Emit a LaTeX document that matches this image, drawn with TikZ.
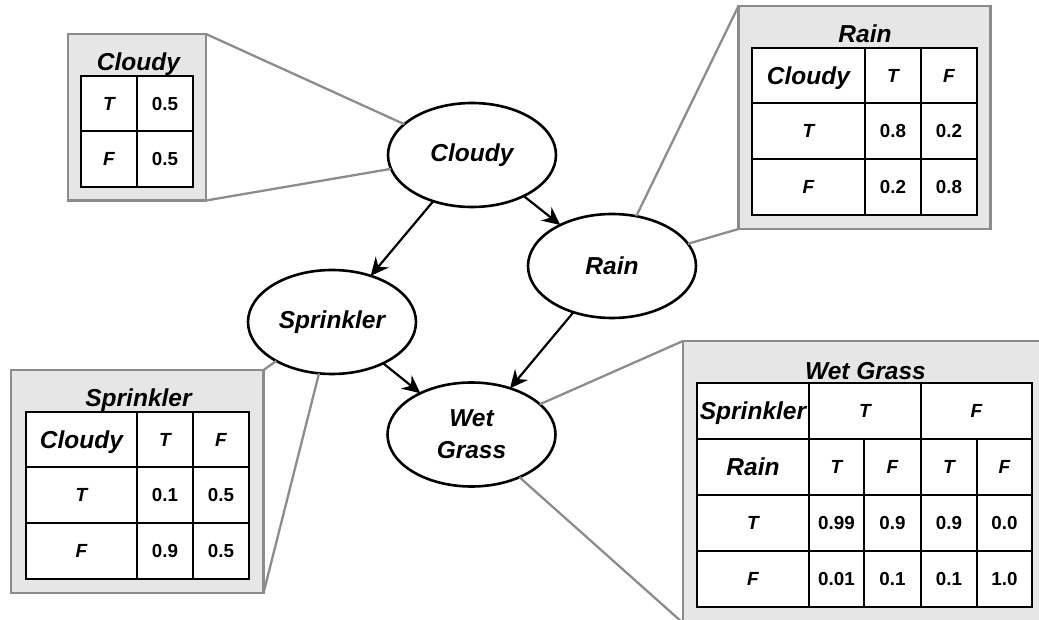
\documentclass[tikz,border=0pt]{standalone}
\usepackage{fontspec}
\setmainfont{Liberation Sans}
\usetikzlibrary{arrows.meta,shapes.geometric}
\definecolor{boxfill}{HTML}{E6E6E6}
\definecolor{boxline}{HTML}{8C8C8C}
\tikzset{
  varnode/.style={ellipse, draw, line width=2.6pt, fill=white, minimum width=168pt,
    minimum height=104pt, inner sep=0pt, outer sep=0pt,
    font=\fontsize{24.5}{32}\selectfont\bfseries\itshape, align=center},
  dep/.style={line width=2.2pt, -{Stealth[length=18pt,width=17pt,inset=6pt]}},
  cpt/.style={rectangle, draw=boxline, fill=boxfill, line width=2.6pt, inner sep=0pt, outer sep=0pt},
  callout/.style={draw=boxline, line width=2.3pt},
  tabline/.style={draw=black, line width=1.4pt},
  hdr/.style={font=\fontsize{24.5}{28}\selectfont\bfseries\itshape, text height=17.5pt, text depth=0pt, inner sep=0pt},
  tf/.style={font=\fontsize{19}{22}\selectfont\bfseries\itshape, text height=13.6pt, text depth=0pt, inner sep=0pt},
  num/.style={font=\fontsize{18.8}{22}\selectfont\bfseries, text height=13.5pt, text depth=0pt, inner sep=0pt},
  ttl/.style={font=\fontsize{24.5}{28}\selectfont\bfseries\itshape, anchor=base, inner sep=0pt},
}
\begin{document}
\begin{tikzpicture}[x=1pt,y=-1pt]
\useasboundingbox (0,0) rectangle (1039,620);

% ---------- conditional probability tables (grey panels) ----------
\node[cpt, minimum width=138pt, minimum height=166.5pt] (cloudyCPT) at (137,117.25) {};
\node[cpt, minimum width=252pt, minimum height=223pt] (rainCPT) at (864.5,117.5) {};
\node[cpt, minimum width=252.5pt, minimum height=223pt] (sprinklerCPT) at (137.25,481.5) {};
\node[cpt, minimum width=367pt, minimum height=282pt] (wetCPT) at (866.5,482) {};

% ---------- network variables ----------
\node[varnode] (cloudy) at (472,155) {Cloudy};
\node[varnode] (rain) at (612,266) {Rain};
\node[varnode] (sprinkler) at (332,322) {Sprinkler};
\node[varnode] (wet) at (471.5,434.5) {Wet\\Grass};

% ---------- dependencies ----------
\draw[dep] (cloudy) -- (sprinkler);
\draw[dep] (cloudy) -- (rain);
\draw[dep] (sprinkler) -- (wet);
\draw[dep] (rain) -- (wet);

% ---------- callout lines from panels to variables ----------
\draw[callout] (cloudyCPT.north east) -- (cloudy);
\draw[callout] (cloudyCPT.south east) -- (cloudy);
\draw[callout] (rainCPT.north west) -- (rain);
\draw[callout] (rainCPT.south west) -- (rain);
\draw[callout] (sprinklerCPT.north east) -- (sprinkler);
\draw[callout] (sprinklerCPT.south east) -- (sprinkler);
\draw[callout] (wetCPT.north west) -- (wet);
\draw[callout] (wetCPT.south west) -- (wet);

% ---------- Cloudy table ----------
\node[ttl] (cloudyTitle) at (138.5,71) {Cloudy};
\draw[tabline, fill=white] (81,76) rectangle (193,187);
\draw[tabline] (137,76) -- (137,187) (81,131) -- (193,131);
\node[tf] (cT) at (109,103.5) {T};
\node[tf] (cF) at (109,159) {F};
\node[num] (cT5) at (165,103.5) {0.5};
\node[num] (cF5) at (165,159) {0.5};

% ---------- Rain table ----------
\node[ttl] (rainTitle) at (865,43) {Rain};
\draw[tabline, fill=white] (752,48) rectangle (977,215);
\draw[tabline] (865,48) -- (865,215) (921,48) -- (921,215)
  (752,103) -- (977,103) (752,159) -- (977,159);
\node[hdr] (rHead) at (808.5,75.5) {Cloudy};
\node[tf] (rHT) at (893,75.5) {T};
\node[tf] (rHF) at (949,75.5) {F};
\node[tf] (rT) at (808.5,131) {T};
\node[tf] (rF) at (808.5,187) {F};
\node[num] (rTT) at (893,131) {0.8};
\node[num] (rTF) at (949,131) {0.2};
\node[num] (rFT) at (893,187) {0.2};
\node[num] (rFF) at (949,187) {0.8};

% ---------- Sprinkler table ----------
\node[ttl] (sprTitle) at (138.5,406) {Sprinkler};
\draw[tabline, fill=white] (26,412) rectangle (249,579);
\draw[tabline] (137,412) -- (137,579) (193,412) -- (193,579)
  (26,467) -- (249,467) (26,523) -- (249,523);
\node[hdr] (sHead) at (81.5,439.5) {Cloudy};
\node[tf] (sHT) at (165,439.5) {T};
\node[tf] (sHF) at (221,439.5) {F};
\node[tf] (sT) at (81.5,495) {T};
\node[tf] (sF) at (81.5,551) {F};
\node[num] (sTT) at (165,495) {0.1};
\node[num] (sTF) at (221,495) {0.5};
\node[num] (sFT) at (165,551) {0.9};
\node[num] (sFF) at (221,551) {0.5};

% ---------- Wet Grass table ----------
\node[ttl] (wetTitle) at (865.5,379) {Wet Grass};
\draw[tabline, fill=white] (697,383) rectangle (1032,607);
\draw[tabline] (809,383) -- (809,607) (921,383) -- (921,607)
  (864,439) -- (864,607) (977,439) -- (977,607)
  (697,439) -- (1032,439) (697,495) -- (1032,495) (697,551) -- (1032,551);
\node[hdr] (wHead1) at (753,411) {Sprinkler};
\node[tf] (wS1) at (865,411) {T};
\node[tf] (wS2) at (976.5,411) {F};
\node[hdr] (wHead2) at (753,467) {Rain};
\node[tf] (wR1) at (836.5,467) {T};
\node[tf] (wR2) at (892.5,467) {F};
\node[tf] (wR3) at (949,467) {T};
\node[tf] (wR4) at (1004.5,467) {F};
\node[tf] (wT) at (753,523) {T};
\node[tf] (wF) at (753,579) {F};
\node[num] (wT1) at (836.5,523) {0.99};
\node[num] (wT2) at (892.5,523) {0.9};
\node[num] (wT3) at (949,523) {0.9};
\node[num] (wT4) at (1004.5,523) {0.0};
\node[num] (wF1) at (836.5,579) {0.01};
\node[num] (wF2) at (892.5,579) {0.1};
\node[num] (wF3) at (949,579) {0.1};
\node[num] (wF4) at (1004.5,579) {1.0};
\end{tikzpicture}
\end{document}
